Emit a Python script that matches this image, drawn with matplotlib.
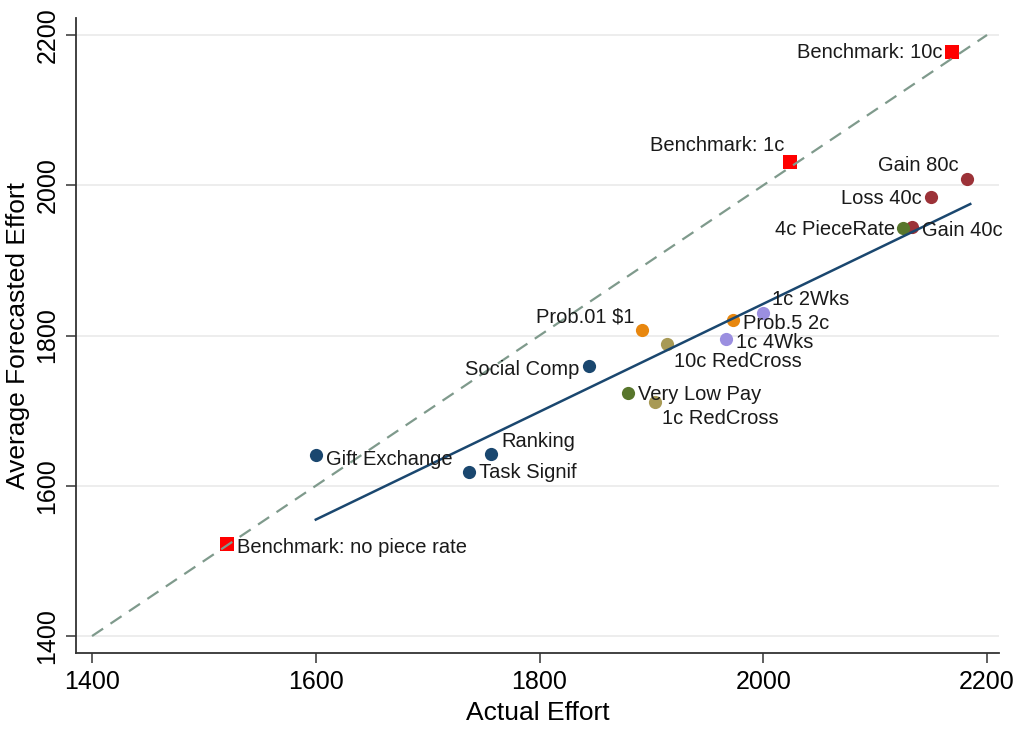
import numpy as np
import matplotlib
matplotlib.use("Agg")
import matplotlib.pyplot as plt

plt.rcParams['font.family'] = ['Liberation Sans', 'DejaVu Sans']

#%% Data
labels = ['Benchmark: 10c', 'Benchmark: 1c', 'Benchmark: no piece rate',
          'Gain 80c', 'Loss 40c', 'Gain 40c', '4c PieceRate',
          '1c 2Wks', 'Prob.5 2c', '1c 4Wks', 'Prob.01 $1',
          '10c RedCross', 'Social Comp', 'Very Low Pay', '1c RedCross',
          'Ranking', 'Gift Exchange', 'Task Signif']
actual = [2169, 2024, 1521,
          2182, 2150, 2133, 2125,
          2000, 1973, 1967, 1892,
          1914, 1844, 1879, 1903,
          1757, 1600, 1737]
forecast = [2177, 2031, 1522,
            2008, 1984, 1944, 1943,
            1830, 1820, 1795, 1808,
            1789, 1759, 1723, 1711,
            1642, 1641, 1619]
group = ['bench', 'bench', 'bench',
         'loss', 'loss', 'loss', 'low',
         'time', 'prob', 'time', 'prob',
         'charity', 'social', 'low', 'charity',
         'social', 'social', 'social']

# fitted line (end points)
fit_x = [1600, 2185]
fit_y = [1555, 1975]
diag = [1400, 2200]

#%% Styles
colors = {'bench': '#ff0000', 'loss': '#9c3238', 'low': '#58762c',
          'time': '#9b8fe0', 'prob': '#e8870f', 'charity': '#a89a55',
          'social': '#1a476f'}
# label position as offset in points (dx, dy, ha, va)
lab_pos = {
    'Benchmark: 10c': (-7, 0, 'right', 'center'),
    'Benchmark: 1c': (-4, 5, 'right', 'bottom'),
    'Benchmark: no piece rate': (7, -2, 'left', 'center'),
    'Gain 80c': (-6, 3, 'right', 'bottom'),
    'Loss 40c': (-7, -1, 'right', 'center'),
    'Gain 40c': (7, -2, 'left', 'center'),
    '4c PieceRate': (-6, -1, 'right', 'center'),
    '1c 2Wks': (6, 3, 'left', 'bottom'),
    'Prob.5 2c': (7, -2, 'left', 'center'),
    '1c 4Wks': (7, -2, 'left', 'center'),
    'Prob.01 $1': (-6, 2, 'right', 'bottom'),
    '10c RedCross': (5, -6, 'left', 'top'),
    'Social Comp': (-7, -2, 'right', 'center'),
    'Very Low Pay': (7, -1, 'left', 'center'),
    '1c RedCross': (5, -5, 'left', 'top'),
    'Ranking': (7, 2, 'left', 'bottom'),
    'Gift Exchange': (7, -3, 'left', 'center'),
    'Task Signif': (7, -1, 'left', 'center'),
}
fs_lab = 14.5

fig = plt.figure(figsize=(10.22, 7.56), dpi=100)
ax = fig.add_axes([0.0744, 0.1362, 0.9031, 0.84])

for yv in [1400, 1600, 1800, 2000, 2200]:
    ax.axhline(yv, color='#eaeaea', linewidth=1.2, zorder=0)

for xv, yv, lab, g in zip(actual, forecast, labels, group):
    mk = 's' if g == 'bench' else 'o'
    ax.plot(xv, yv, marker=mk, markersize=9.8 if mk == 's' else 9.5,
            color=colors[g], markeredgewidth=0, linestyle='none', zorder=2)
    dx, dy, ha, va = lab_pos[lab]
    ax.annotate(lab, (xv, yv), xytext=(dx, dy), textcoords='offset points',
                ha=ha, va=va, fontsize=fs_lab, color='#1a1a1a', zorder=4)

ax.plot(diag, diag, linestyle=(0, (6, 4)), color='#7f9a8c', linewidth=1.6, zorder=3)
ax.plot(fit_x, fit_y, color='#1a476f', linewidth=1.8, zorder=3)

ax.set_xlim(1385.7, 2210.7)
ax.set_ylim(1377.4, 2222.6)
ax.set_xticks([1400, 1600, 1800, 2000, 2200])
ax.set_yticks([1400, 1600, 1800, 2000, 2200])
ax.tick_params(axis='both', labelsize=18, length=7, width=1.1, color='#333333')
ax.tick_params(axis='x', pad=5)
ax.tick_params(axis='y', pad=5)
for t in ax.get_yticklabels():
    t.set_rotation(90)
    t.set_va('center')
ax.spines['top'].set_visible(False)
ax.spines['right'].set_visible(False)
for s in ['left', 'bottom']:
    ax.spines[s].set_linewidth(1.3)
    ax.spines[s].set_color('#333333')
ax.set_xlabel('Actual Effort', fontsize=19, labelpad=5)
ax.set_ylabel('Average Forecasted Effort', fontsize=19, labelpad=4)

fig.savefig('out.png', dpi=100)
